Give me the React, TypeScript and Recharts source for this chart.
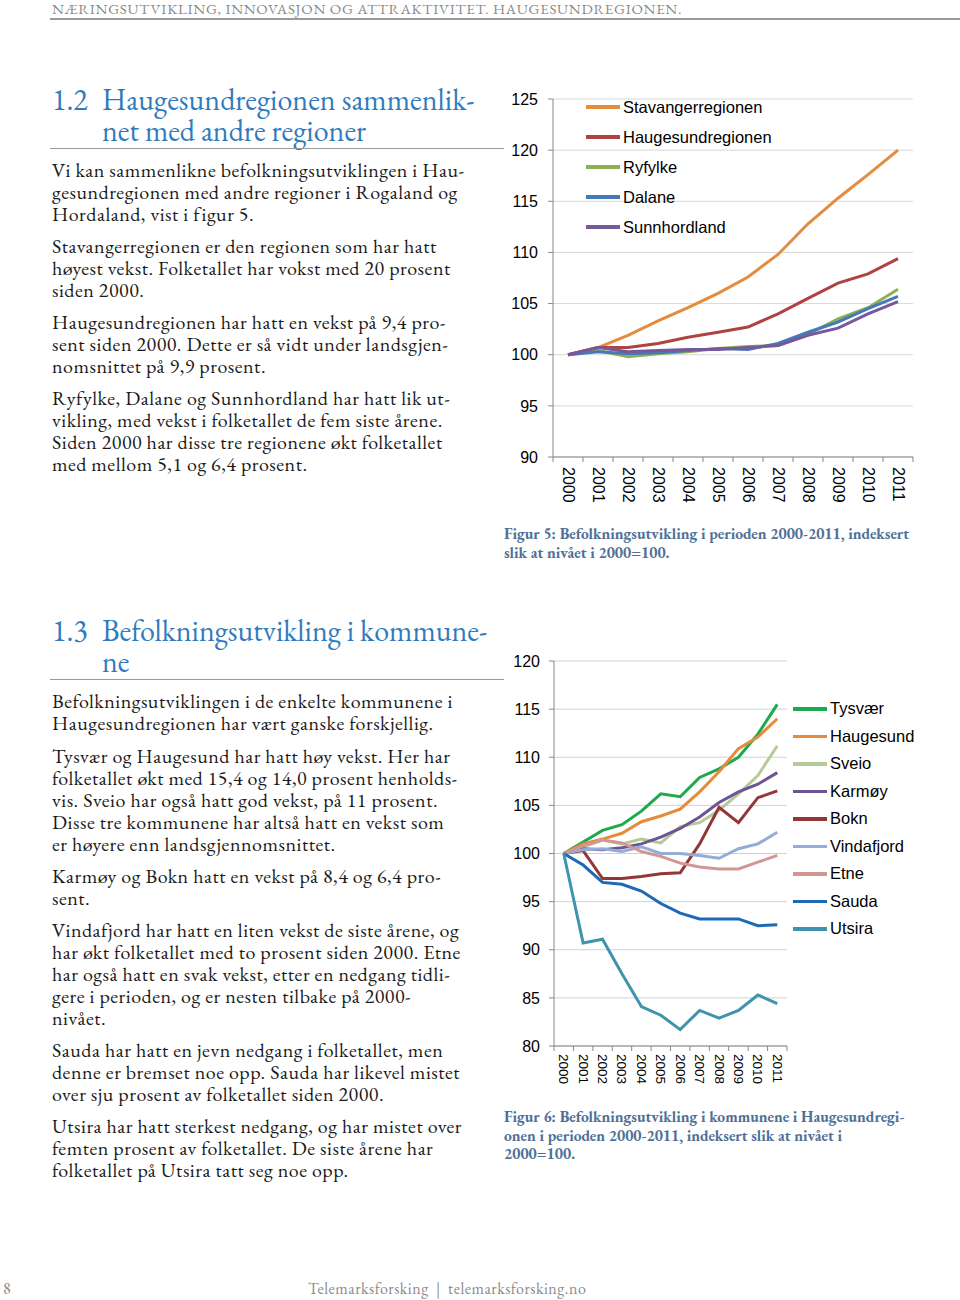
import React from 'react';
import { LineChart, Line, XAxis, YAxis, CartesianGrid, Legend } from 'recharts';

const years = ['2000', '2001', '2002', '2003', '2004', '2005', '2006', '2007', '2008', '2009', '2010', '2011'];

// Figure 5 – regions
const stavangerregionen = [100, 100.7, 101.9, 103.3, 104.6, 106.0, 107.6, 109.8, 112.8, 115.3, 117.6, 120.0];
const haugesundregionen = [100, 100.7, 100.7, 101.1, 101.7, 102.2, 102.7, 104.0, 105.5, 107.0, 107.9, 109.4];
const ryfylke = [100, 100.4, 99.8, 100.1, 100.3, 100.6, 100.8, 100.9, 102.0, 103.5, 104.6, 106.4];
const dalane = [100, 100.3, 100.1, 100.2, 100.4, 100.6, 100.5, 101.1, 102.2, 103.2, 104.5, 105.7];
const sunnhordland = [100, 100.7, 100.3, 100.4, 100.5, 100.5, 100.7, 100.9, 101.9, 102.6, 104.0, 105.2];
const regionTicks = [90, 95, 100, 105, 110, 115, 120, 125];

// Figure 6 – municipalities
const tysvaer = [100, 101.2, 102.4, 103.0, 104.4, 106.2, 105.9, 107.9, 108.8, 110.0, 112.4, 115.5];
const haugesund = [100, 101.0, 101.5, 102.1, 103.3, 103.9, 104.6, 106.4, 108.5, 110.9, 112.1, 114.0];
const sveio = [100, 100.7, 101.4, 101.0, 101.5, 101.1, 102.8, 103.2, 104.5, 106.2, 108.1, 111.2];
const karmoy = [100, 100.5, 100.4, 100.6, 101.0, 101.7, 102.6, 103.8, 105.3, 106.4, 107.2, 108.4];
const bokn = [100, 100.3, 97.4, 97.4, 97.6, 97.9, 98.0, 101.0, 104.8, 103.2, 105.8, 106.5];
const vindafjord = [100, 100.4, 100.5, 100.2, 100.7, 100.0, 100.0, 99.8, 99.5, 100.5, 101.0, 102.2];
const etne = [100, 100.8, 101.4, 101.1, 100.2, 99.7, 99.0, 98.6, 98.4, 98.4, 99.1, 99.8];
const sauda = [100, 98.8, 97.0, 96.8, 96.1, 94.8, 93.8, 93.2, 93.2, 93.2, 92.5, 92.6];
const utsira = [100, 90.7, 91.1, 87.5, 84.1, 83.2, 81.7, 83.7, 82.9, 83.7, 85.3, 84.4];
const kommuneTicks = [80, 85, 90, 95, 100, 105, 110, 115, 120];

const regionSeries = [
  { key: 'Stavangerregionen', values: stavangerregionen, color: '#E48B3D' },
  { key: 'Haugesundregionen', values: haugesundregionen, color: '#AE4341' },
  { key: 'Ryfylke', values: ryfylke, color: '#8DB053' },
  { key: 'Dalane', values: dalane, color: '#4479BA' },
  { key: 'Sunnhordland', values: sunnhordland, color: '#77589A' },
];

const kommuneSeries = [
  { key: 'Tysvær', values: tysvaer, color: '#1EA94C' },
  { key: 'Haugesund', values: haugesund, color: '#E48B3D' },
  { key: 'Sveio', values: sveio, color: '#B5CB96' },
  { key: 'Karmøy', values: karmoy, color: '#6C5592' },
  { key: 'Bokn', values: bokn, color: '#943636' },
  { key: 'Vindafjord', values: vindafjord, color: '#93ADD8' },
  { key: 'Etne', values: etne, color: '#D29794' },
  { key: 'Sauda', values: sauda, color: '#1C69B5' },
  { key: 'Utsira', values: utsira, color: '#3E93AD' },
];

const regionData = years.map((y, i) => {
  const row: any = { year: y };
  regionSeries.forEach((s) => (row[s.key] = s.values[i]));
  return row;
});
const kommuneData = years.map((y, i) => {
  const row: any = { year: y };
  kommuneSeries.forEach((s) => (row[s.key] = s.values[i]));
  return row;
});

const SANS = 'Arial, "Liberation Sans", sans-serif';
const SERIF = '"EB Garamond", Garamond, "Liberation Serif", serif';

const makeXTick = (fontSize: number, gap: number, band: number) => (props: any) => {
  const { x, y, payload, index } = props;
  const axisY = y - 8;
  return (
    <g>
      <line x1={x - band / 2} y1={axisY} x2={x - band / 2} y2={axisY + 5} stroke="#888" />
      {index === years.length - 1 && (
        <line x1={x + band / 2} y1={axisY} x2={x + band / 2} y2={axisY + 5} stroke="#888" />
      )}
      <text
        x={x}
        y={axisY + gap}
        transform={`rotate(90, ${x}, ${axisY + gap})`}
        textAnchor="start"
        dominantBaseline="central"
        fontSize={fontSize}
        fontFamily={SANS}
        fill="#000"
      >
        {payload.value}
      </text>
    </g>
  );
};

const makeLegend = (series: { key: string; color: string }[], rowH: number, fontSize: number) => () => (
  <div>
    {series.map((s) => (
      <div key={s.key} style={{ height: rowH, display: 'flex', alignItems: 'center' }}>
        <div style={{ width: 34, height: 3.5, background: s.color, marginRight: 3 }} />
        <span style={{ fontFamily: SANS, fontSize, color: '#000', whiteSpace: 'nowrap' }}>{s.key}</span>
      </div>
    ))}
  </div>
);

const para = (lines: string[], top: number, lh = 22) =>
  lines.map((l, i) => (
    <div
      key={top + '-' + i}
      style={{
        position: 'absolute',
        left: 52,
        top: top + i * lh,
        fontFamily: SERIF,
        fontSize: 20,
        letterSpacing: 0.5,
        lineHeight: '22px',
        whiteSpace: 'nowrap',
        color: '#1a1a1a',
      }}
    >
      {l}
    </div>
  ));

const headStyle: React.CSSProperties = {
  position: 'absolute',
  fontFamily: SERIF,
  fontSize: 30,
  lineHeight: '30px',
  color: '#2F7BBD',
  whiteSpace: 'nowrap',
};

const heading = (num: string, l1: string, l2: string, top: number) => (
  <>
    <div style={{ ...headStyle, left: 52, top }}>{num}</div>
    <div style={{ ...headStyle, left: 102, top }}>{l1}</div>
    <div style={{ ...headStyle, left: 102, top: top + 31 }}>{l2}</div>
    <div style={{ position: 'absolute', left: 50, top: top + 63, width: 454, height: 1, background: '#9a9a9a' }} />
  </>
);

const caption = (lines: string[], top: number) =>
  lines.map((l, i) => (
    <div
      key={'c' + top + i}
      style={{
        position: 'absolute',
        left: 504,
        top: top + i * 18.5,
        fontFamily: SERIF,
        fontSize: 15.5,
        fontWeight: 'bold',
        lineHeight: '18px',
        color: '#4F7096',
        whiteSpace: 'nowrap',
      }}
    >
      {l}
    </div>
  ));

export default function App() {
  return (
    <div style={{ position: 'absolute', left: 0, top: 0, width: 960, height: 1300, background: '#fff', overflow: 'hidden' }}>
      {/* running header */}
      <div style={{ position: 'absolute', left: 52, top: 2, fontFamily: SERIF, fontSize: 15, lineHeight: '14px', color: '#8a8a8a', letterSpacing: 0.7, whiteSpace: 'nowrap' }}>
        NÆRINGSUTVIKLING, INNOVASJON OG ATTRAKTIVITET. HAUGESUNDREGIONEN.
      </div>
      <div style={{ position: 'absolute', left: 50, top: 18, width: 910, height: 2, background: '#9a9a9a' }} />

      {heading('1.2', 'Haugesundregionen sammenlik-', 'net med andre regioner', 85)}
      {para(['Vi kan sammenlikne befolkningsutviklingen i Hau-', 'gesundregionen med andre regioner i Rogaland og', 'Hordaland, vist i figur 5.'], 159)}
      {para(['Stavangerregionen er den regionen som har hatt', 'høyest vekst. Folketallet har vokst med 20 prosent', 'siden 2000.'], 235)}
      {para(['Haugesundregionen har hatt en vekst på 9,4 pro-', 'sent siden 2000. Dette er så vidt under landsgjen-', 'nomsnittet på 9,9 prosent.'], 311)}
      {para(['Ryfylke, Dalane og Sunnhordland har hatt lik ut-', 'vikling, med vekst i folketallet de fem siste årene.', 'Siden 2000 har disse tre regionene økt folketallet', 'med mellom 5,1 og 6,4 prosent.'], 387)}

      {heading('1.3', 'Befolkningsutvikling i kommune-', 'ne', 616)}
      {para(['Befolkningsutviklingen i de enkelte kommunene i', 'Haugesundregionen har vært ganske forskjellig.'], 690)}
      {para(['Tysvær og Haugesund har hatt høy vekst. Her har', 'folketallet økt med 15,4 og 14,0 prosent henholds-', 'vis. Sveio har også hatt god vekst, på 11 prosent.', 'Disse tre kommunene har altså hatt en vekst som', 'er høyere enn landsgjennomsnittet.'], 745)}
      {para(['Karmøy og Bokn hatt en vekst på 8,4 og 6,4 pro-', 'sent.'], 865)}
      {para(['Vindafjord har hatt en liten vekst de siste årene, og', 'har økt folketallet med to prosent siden 2000. Etne', 'har også hatt en svak vekst, etter en nedgang tidli-', 'gere i perioden, og er nesten tilbake på 2000-', 'nivået.'], 919)}
      {para(['Sauda har hatt en jevn nedgang i folketallet, men', 'denne er bremset noe opp. Sauda har likevel mistet', 'over sju prosent av folketallet siden 2000.'], 1039)}
      {para(['Utsira har hatt sterkest nedgang, og har mistet over', 'femten prosent av folketallet. De siste årene har', 'folketallet på Utsira tatt seg noe opp.'], 1115)}

      {/* Figure 5 */}
      <div style={{ position: 'absolute', left: 470, top: 85 }}>
        <LineChart width={460} height={430} data={regionData} margin={{ top: 14, right: 17, bottom: 8, left: 0 }}>
          <CartesianGrid horizontal vertical={false} stroke="#D9D9D9" />
          <XAxis
            dataKey="year"
            scale="band"
            interval={0}
            height={50}
            axisLine={{ stroke: '#888' }}
            tickLine={false}
            tick={makeXTick(16, 10, 30)}
          />
          <YAxis
            domain={[90, 125]}
            ticks={regionTicks}
            interval={0}
            width={83}
            axisLine={{ stroke: '#888' }}
            tickLine={{ stroke: '#888' }}
            tickSize={5}
            tickMargin={10}
            tick={{ fontSize: 16, fontFamily: SANS, fill: '#000' }}
          />
          {regionSeries.map((s) => (
            <Line key={s.key} dataKey={s.key} stroke={s.color} strokeWidth={3} dot={false} isAnimationActive={false} />
          ))}
          <Legend
            layout="vertical"
            align="center"
            verticalAlign="middle"
            content={makeLegend(regionSeries, 30, 16.5)}
            wrapperStyle={{ left: 116, top: 7, width: 'auto', height: 'auto' }}
          />
        </LineChart>
      </div>
      {caption(['Figur 5: Befolkningsutvikling i perioden 2000-2011, indeksert', 'slik at nivået i 2000=100.'], 525)}

      {/* Figure 6 */}
      <div style={{ position: 'absolute', left: 470, top: 650 }}>
        <LineChart width={460} height={446} data={kommuneData} margin={{ top: 11, right: 143, bottom: 5, left: 0 }}>
          <CartesianGrid horizontal vertical={false} stroke="#C9D3E0" />
          <XAxis
            dataKey="year"
            scale="band"
            interval={0}
            height={45}
            axisLine={{ stroke: '#888' }}
            tickLine={false}
            tick={makeXTick(13.5, 8, 19.4)}
          />
          <YAxis
            domain={[80, 120]}
            ticks={kommuneTicks}
            interval={0}
            width={84}
            axisLine={{ stroke: '#888' }}
            tickLine={{ stroke: '#888' }}
            tickSize={5}
            tickMargin={9}
            tick={{ fontSize: 16, fontFamily: SANS, fill: '#000' }}
          />
          {kommuneSeries.map((s) => (
            <Line key={s.key} dataKey={s.key} stroke={s.color} strokeWidth={3} dot={false} isAnimationActive={false} />
          ))}
          <Legend
            layout="vertical"
            align="center"
            verticalAlign="middle"
            content={makeLegend(kommuneSeries, 27.5, 16.5)}
            wrapperStyle={{ left: 323, top: 45, width: 'auto', height: 'auto' }}
          />
        </LineChart>
      </div>
      {caption(['Figur 6: Befolkningsutvikling i kommunene i Haugesundregi-', 'onen i perioden 2000-2011, indeksert slik at nivået i', '2000=100.'], 1108)}

      {/* footer */}
      <div style={{ position: 'absolute', left: 3, top: 1281, fontFamily: SERIF, fontSize: 16, lineHeight: '16px', color: '#8a8a8a' }}>8</div>
      <div style={{ position: 'absolute', left: 308, top: 1281, fontFamily: SERIF, fontSize: 16, lineHeight: '16px', letterSpacing: 0.5, color: '#8a8a8a', whiteSpace: 'nowrap' }}>
        Telemarksforsking&nbsp;&nbsp;|&nbsp;&nbsp;telemarksforsking.no
      </div>
    </div>
  );
}
